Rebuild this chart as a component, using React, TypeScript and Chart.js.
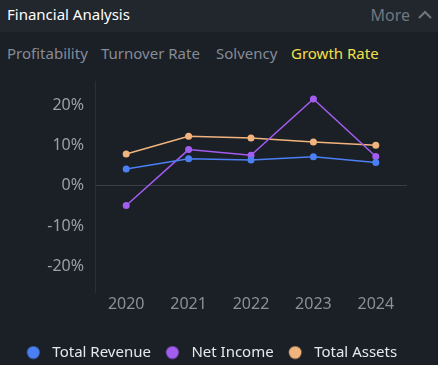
import React, { useEffect, useRef } from "react";
import { Chart, registerables } from "chart.js";

Chart.register(...registerables);

const categories = ["2020", "2021", "2022", "2023", "2024"];
const totalRevenue = [4.2, 6.7, 6.4, 7.2, 5.8];
const netIncome = [-4.9, 9.0, 7.6, 21.6, 7.3];
const totalAssets = [7.9, 12.3, 11.9, 10.9, 10.1];
const yTicks = [-20, -10, 0, 10, 20];
const tabs = ["Profitability", "Turnover Rate", "Solvency", "Growth Rate"];
const tabLefts = [7, 101, 216, 291];

const FONT = "'Noto Sans', 'Open Sans', sans-serif";

function dot(color: string) {
  const c = document.createElement("canvas");
  c.width = 30;
  c.height = 14;
  const g = c.getContext("2d")!;
  g.fillStyle = color;
  g.beginPath();
  g.arc(20, 7, 6.3, 0, Math.PI * 2);
  g.fill();
  return c;
}

export default function App() {
  const ref = useRef<HTMLCanvasElement | null>(null);

  useEffect(() => {
    document.body.style.margin = "0";
    const ctx = ref.current!;
    const colors = ["#4a80f4", "#a35df0", "#f1b47d"];
    const dots = colors.map(dot);
    const chart = new Chart(ctx, {
      type: "line",
      data: {
        labels: categories,
        datasets: [
          { label: "Total Revenue", data: totalRevenue, borderColor: colors[0], backgroundColor: colors[0] },
          { label: "Net Income", data: netIncome, borderColor: colors[1], backgroundColor: colors[1] },
          { label: "Total Assets", data: totalAssets, borderColor: colors[2], backgroundColor: colors[2] },
        ].map((d) => ({ ...d, borderWidth: 1.5, pointRadius: 3.5, pointBorderWidth: 0, tension: 0 })),
      },
      options: {
        animation: false,
        responsive: false,
        maintainAspectRatio: false,
        layout: { padding: { top: 0, right: 29, left: 0, bottom: 0 } },
        plugins: {
          tooltip: { enabled: false },
          legend: {
            position: "bottom",
            labels: {
              usePointStyle: true,
              pointStyleWidth: 33,
              boxHeight: 14,
              padding: 0,
              color: "#e6e8eb",
              font: { family: FONT, size: 15 },
              generateLabels: (ch: any) =>
                ch.data.datasets.map((ds: any, i: number) => ({
                  text: ds.label,
                  fillStyle: colors[i],
                  strokeStyle: colors[i],
                  lineWidth: 0,
                  pointStyle: dots[i],
                  hidden: false,
                  datasetIndex: i,
                  fontColor: "#e6e8eb",
                })),
            },
          },
        },
        scales: {
          x: {
            offset: true,
            grid: { display: false, drawTicks: false },
            border: { display: false },
            ticks: { color: "#8a9099", font: { family: FONT, size: 16 }, padding: 3 },
            afterFit: (s: any) => { s.height = 53; },
          },
          y: {
            min: -26.4,
            max: 25.9,
            afterBuildTicks: (s: any) => { s.ticks = yTicks.map((v) => ({ value: v })); },
            grid: {
              drawTicks: false,
              color: (c: any) => (c.tick && c.tick.value === 0 ? "#3a3f47" : "transparent"),
              lineWidth: 1,
            },
            border: { display: true, color: "#2b3038" },
            ticks: {
              color: "#9aa0a8",
              font: { family: FONT, size: 16 },
              padding: 11,
              callback: (v: any) => `${v}%`,
            },
            afterFit: (s: any) => { s.width = 95; },
          },
          yRight: {
            type: "linear",
            position: "right",
            display: true,
            grid: { display: false, drawTicks: false },
            border: { display: false },
            ticks: { display: false },
            afterFit: (s: any) => { s.width = 2; },
          },
        },
      },
    });
    return () => chart.destroy();
  }, []);

  return (
    <div style={{ position: "fixed", left: 0, top: 0, width: 438, height: 365, background: "#1b1f26", fontFamily: FONT, overflow: "hidden" }}>
      <div style={{ position: "absolute", left: 0, top: 0, width: 438, height: 32, background: "#22262d" }}>
        <div style={{ position: "absolute", left: 7, top: 4, color: "#ffffff", fontSize: 15 }}>Financial Analysis</div>
        <div style={{ position: "absolute", right: 28, top: 4, color: "#70767f", fontSize: 16 }}>More</div>
        <svg style={{ position: "absolute", right: 6, top: 10 }} width="14" height="10" viewBox="0 0 14 10">
          <polyline points="1,8 7,2 13,8" fill="none" stroke="#70767f" strokeWidth="2" />
        </svg>
      </div>
      {tabs.map((t, i) => (
        <div key={t} style={{ position: "absolute", left: tabLefts[i], top: 43, fontSize: 15, whiteSpace: "nowrap", color: i === 3 ? "#f3e04a" : "#858c96" }}>{t}</div>
      ))}
      <canvas ref={ref} width={438} height={309} style={{ position: "absolute", left: 0, top: 61 }} />
    </div>
  );
}
